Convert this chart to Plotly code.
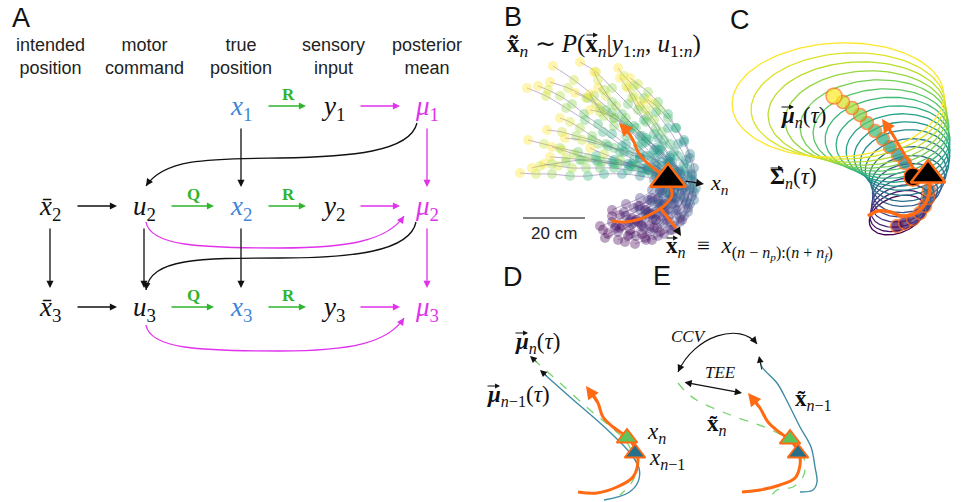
import numpy as np
import plotly.graph_objects as go
from plotly.colors import sample_colorscale

W, H = 964, 502
SERIF = "Liberation Serif"
SANS = "Liberation Sans"
BLUE = "#3d86d8"
MAG = "#e032ec"
GREEN = "#31b52e"
ORANGE = "#ff6a13"
BLACK = "#111111"
TEAL_LINE = "#3f8ca6"
GREEN_DASH = "#78d46e"
TRI_GREEN = "#5ec45c"
TRI_TEAL = "#26708c"

# ---------------- data ----------------
letters = ["A", "B", "C", "D", "E"]
letter_x = [21, 513, 740, 513, 662]
letter_y = [18, 17, 20, 277, 276]

# Panel A: graphical model
col_x = [50, 144, 241, 333, 427]
row_y = [108, 208, 309]
headers = ["intended<br>position", "motor<br>command", "true<br>position",
           "sensory<br>input", "posterior<br>mean"]
header_y = 56

node_text = ["<i>x</i><sub>1</sub>", "<i>y</i><sub>1</sub>", "<i>μ</i><sub>1</sub>",
             "<i>x̄</i><sub>2</sub>", "<i>u</i><sub>2</sub>", "<i>x</i><sub>2</sub>", "<i>y</i><sub>2</sub>", "<i>μ</i><sub>2</sub>",
             "<i>x̄</i><sub>3</sub>", "<i>u</i><sub>3</sub>", "<i>x</i><sub>3</sub>", "<i>y</i><sub>3</sub>", "<i>μ</i><sub>3</sub>"]
node_col = [2, 3, 4, 0, 1, 2, 3, 4, 0, 1, 2, 3, 4]
node_row = [0, 0, 0, 1, 1, 1, 1, 1, 2, 2, 2, 2, 2]
node_color = [BLUE, BLACK, MAG, BLACK, BLACK, BLUE, BLACK, MAG, BLACK, BLACK, BLUE, BLACK, MAG]

h_row = [0, 0, 1, 1, 1, 1, 2, 2, 2, 2]
h_col = [2, 3, 0, 1, 2, 3, 0, 1, 2, 3]
h_color = [GREEN, MAG, BLACK, GREEN, GREEN, MAG, BLACK, GREEN, GREEN, MAG]
h_label = ["R", "", "", "Q", "R", "", "", "Q", "R", ""]

v_col = [2, 4, 0, 1, 2, 4]
v_row = [0, 0, 1, 1, 1, 1]
v_color = [BLACK, MAG, BLACK, BLACK, BLACK, MAG]

curve_pts = [
    [(417, 123), (410, 152), (350, 157), (280, 158), (210, 159), (165, 158), (146, 186)],
    [(146, 222), (150, 246), (200, 248), (280, 248), (350, 248), (388, 240), (404, 216)],
    [(416, 222), (410, 252), (350, 258), (280, 258), (200, 258), (150, 258), (146, 290)],
    [(146, 325), (150, 349), (200, 351), (280, 351), (350, 351), (388, 343), (404, 318)],
]
curve_color = [BLACK, MAG, BLACK, MAG]

# Panel B: posterior samples (pixel positions)
traj_B = [
    [(628,236),(642,226),(656,214),(668,200),(672,186),(666,172),(655,158),(642,144),(628,128),(612,112),(594,96),(574,80),(553,66)],
    [(645,238),(657,228),(668,216),(678,202),(684,188),(680,172),(670,156),(658,138),(644,120),(628,104),(612,88),(596,72),(580,62)],
    [(615,228),(630,220),(645,210),(658,198),(664,184),(656,170),(640,158),(622,146),(603,132),(585,120),(566,108),(546,96),(527,88)],
    [(638,222),(652,214),(664,204),(674,192),(676,178),(668,164),(654,150),(640,136),(624,122),(606,110),(588,98),(568,88),(550,82)],
    [(660,232),(670,222),(678,210),(684,196),(682,182),(672,168),(660,154),(646,142),(630,130),(614,118),(600,108),(586,98),(575,93)],
    [(650,226),(662,216),(672,204),(682,190),(688,176),(686,160),(678,144),(668,128),(656,112),(644,98),(634,86),(624,76),(618,68)],
    [(672,230),(680,218),(686,204),(690,190),(692,174),(690,158),(684,142),(676,128),(668,114),(658,102),(648,92),(638,84),(630,78)],
    [(682,220),(688,208),(692,196),(694,182),(694,168),(690,154),(684,140),(676,128),(668,118),(660,110),(654,104),(648,100)],
    [(620,215),(634,208),(648,200),(660,190),(660,178),(648,170),(632,164),(614,160),(596,156),(578,152),(560,148),(544,144),(528,140)],
    [(632,218),(646,210),(658,200),(668,188),(668,176),(656,166),(640,158),(624,152),(608,146),(592,140),(576,136),(562,132),(547,130)],
    [(648,212),(660,204),(670,194),(678,182),(674,170),(662,162),(646,156),(630,152),(614,148),(598,144),(582,140),(565,138)],
    [(612,210),(626,204),(640,198),(652,190),(654,180),(640,176),(622,174),(604,174),(588,176),(570,176),(552,174),(536,174),(520,173)],
    [(640,206),(652,198),(662,190),(668,180),(660,172),(646,168),(630,166),(614,164),(598,162),(582,160),(566,158),(550,157)],
    [(656,220),(666,210),(674,198),(680,186),(678,172),(668,160),(656,148),(642,136),(628,126),(614,118),(600,112),(590,110)],
    [(605,238),(618,232),(632,224),(646,214),(658,204),(666,192),(662,180),(650,172),(636,166),(620,160),(604,154),(590,148)],
    [(625,242),(636,236),(650,232),(664,224),(676,214),(686,202),(690,188),(684,174),(672,162),(660,150),(648,140),(636,128),(626,118),(616,106),(606,96),(598,88)],
    [(618,240),(630,234),(644,228),(656,220),(668,210),(676,198),(678,186),(672,176),(662,166),(650,156),(638,146),(626,136),(614,126),(604,116),(596,104),(590,94)],
    [(600,226),(612,222),(626,216),(640,210),(652,202),(662,194),(666,184),(660,176),(648,168),(634,160),(620,152),(606,144),(592,136),(580,128),(570,122),(560,118)],
    [(635,244),(646,240),(658,236),(670,230),(680,222),(688,212),(694,200),(696,188),(692,176),(684,164),(674,152),(664,140),(656,128),(648,116),(640,106),(634,96),(628,88)],
    [(608,234),(620,228),(634,222),(648,216),(660,208),(670,200),(674,190),(668,182),(656,176),(642,172),(628,170),(614,168),(600,168),(586,168),(572,168),(558,166),(544,164)],
    [(652,240),(664,234),(674,226),(684,216),(690,204),(694,192),(692,180),(686,168),(678,156),(670,144),(662,132),(654,120),(646,110),(640,102)],
    [(622,226),(636,220),(650,214),(662,206),(672,196),(674,184),(666,174),(654,164),(640,154),(626,144),(612,134),(598,124),(584,114),(572,104),(560,96),(548,90),(538,86)],
    [(642,234),(654,228),(666,220),(676,210),(684,198),(686,186),(680,174),(670,162),(658,150),(646,138),(634,126),(622,114),(612,102),(604,90),(598,80),(594,72)],
    [(612,216),(624,212),(638,206),(650,200),(660,192),(664,182),(656,174),(642,168),(628,164),(612,162),(596,160),(580,160),(566,162),(552,164),(540,166),(532,168)],
    [(630,230),(641,224),(653,219),(664,212),(674,204),(680,194),(682,182),(678,170),(670,158),(662,146),(654,134),(646,122),(638,110),(632,98),(626,86),(620,78)],
    [(603,230),(616,226),(629,222),(642,218),(654,212),(664,204),(670,194),(668,184),(660,176),(648,170),(634,166),(618,164),(602,162),(588,158),(574,154),(562,150),(552,147)],
]
orange_B = [(612,221),(625,222),(640,219),(655,212),(666,204),(672,195),(670,186),(666,178),(656,170),(646,162),(638,152),(634,142),(628,132),(623,127)]
orange_B2 = [(661,209),(669,219),(676,228)]
tri_B = (668, 179)
scalebar_x = [523, 585]
scalebar_y = 218

# Panel C: covariance ellipses (purple -> yellow)
ell_cx = [897,899,901,903,905,907,908,908,907,905,902,898,893,887,881,874,866,857,848,838]
ell_cy = [215,211,206,200,194,188,181,174,167,160,154,148,142,136,130,124,118,112,106,100]
ell_a = [29,30,31,32,33,35,37,39,42,45,48,52,57,62,68,74,81,89,97,106]
ell_b = [18,19,20,21,22,24,25,27,28,30,32,34,36,38.5,41,44,47,50,53,57]
ell_ang = [22,20,18,16,14,12,10,9,8,7,6,6,5,5,4,4,3,3,3,3]
mu_C = [(897,226),(905,223),(913,219),(920,213),(925,206),(928,198),(929,190),
        (905,163),(898,155),(890,147),(883,139),(875,131),(867,123),(860,115),(852,108),(843,102),(834,96)]
mu_C_size = [13]*16 + [16]
orange_C1 = [(868,216),(878,211),(890,212),(902,216),(914,214),(922,208),(928,198),(930,188),(928,180)]
orange_C2 = [(916,172),(908,160),(900,147),(893,135),(887,126)]
dot_C = (913, 177)
tri_C = (928, 175)

# Panel D
D_green = [(533,359),(560,383),(590,410),(612,428),(625,440),(634,456),(637,468),(632,482),(620,495)]
D_teal = [(543,373),(570,397),(600,423),(620,442),(630,453),(639,468),(638,482),(628,493),(604,500)]
D_orange = [(578,492),(597,493),(617,487),(633,477),(638,460),(635,448),(627,437),(613,427),(603,417),(598,403),(591,392)]
D_tri_green = (627, 438)
D_tri_teal = (635, 453)

# Panel E
E_teal = [(760,360),(762,367),(777,383),(788,403),(800,427),(811,447),(815,467),(817,482),(813,490),(800,492)]
E_green = [(678,383),(687,393),(700,402),(733,416),(767,428),(790,440),(800,450),(805,463),(803,477),(793,487),(777,490),(770,498)]
E_orange = [(742,492),(760,490),(780,485),(795,478),(800,465),(799,453),(790,440),(779,432),(768,422),(760,408),(753,399)]
E_tri_green = (790, 439)
E_tri_teal = (798, 453)
ccv_pts = [(678,372),(695,335),(740,322),(757,344)]
tee_pts = [(683,382),(742,393)]

# vector arrows over bold symbols: (x start, x end, y)
vec_marks = [(585, 598, 35), (665, 678, 238), (780, 794, 107), (769, 783, 168), (514, 528, 333), (486, 500, 386)]

# ---------------- figure ----------------
fig = go.Figure()
shapes = []
anns = []


def text(x, y, t, size, color=BLACK, family=SERIF, xanchor="center"):
    anns.append(dict(x=x, y=y, xref="x", yref="y", text=t, showarrow=False,
                     font=dict(size=size, color=color, family=family),
                     xanchor=xanchor, yanchor="middle"))


def arrow(x0, y0, x1, y1, color, width=1.3, size=1.1, head=2, side="end"):
    anns.append(dict(x=x1, y=y1, ax=x0, ay=y0, xref="x", yref="y", axref="x", ayref="y",
                     text="", showarrow=True, arrowhead=head, startarrowhead=head,
                     arrowsize=size, startarrowsize=size, arrowside=side,
                     arrowwidth=width, arrowcolor=color, standoff=0, startstandoff=0))


def line(pts, color, width, dash="solid", spline=True, opacity=1.0):
    fig.add_trace(go.Scatter(x=[p[0] for p in pts], y=[p[1] for p in pts], mode="lines",
                             line=dict(color=color, width=width, dash=dash,
                                       shape="spline" if spline else "linear"),
                             opacity=opacity, hoverinfo="skip"))


# panel letters
for L, lx, ly in zip(letters, letter_x, letter_y):
    text(lx, ly, L, 27, BLACK, SANS)

# Panel A
for cx, hd in zip(col_x, headers):
    text(cx, header_y, hd, 18, "#222222", SANS)
for t, c, r, colr in zip(node_text, node_col, node_row, node_color):
    text(col_x[c], row_y[r], t, 27, colr, SERIF)
for r, c, colr, lab in zip(h_row, h_col, h_color, h_label):
    y = row_y[r] - 2
    arrow(col_x[c] + 26, y, col_x[c + 1] - 27, y, colr)
    if lab:
        text((col_x[c] + col_x[c + 1]) / 2 + 1, y - 12, "<b>" + lab + "</b>", 17, colr, SERIF)
for c, r, colr in zip(v_col, v_row, v_color):
    arrow(col_x[c], row_y[r] + 19, col_x[c], row_y[r + 1] - 21, colr)
for pts, colr in zip(curve_pts, curve_color):
    p = pts
    path = "M %g,%g C %g,%g %g,%g %g,%g C %g,%g %g,%g %g,%g" % tuple(v for q in p for v in q)
    shapes.append(dict(type="path", path=path, xref="x", yref="y",
                       line=dict(color=colr, width=1.3)))
    (x5, y5), (x6, y6) = p[5], p[6]
    arrow(x6 + 0.25 * (x5 - x6), y6 + 0.25 * (y5 - y6), x6, y6, colr)

# Panel B
for tr in traj_B:
    n = len(tr)
    cols = sample_colorscale("Viridis", list(np.linspace(0, 1, n)))
    fig.add_trace(go.Scatter(x=[p[0] for p in tr], y=[p[1] for p in tr], mode="lines+markers",
                             line=dict(color="rgba(130,90,160,0.55)", width=0.9, shape="spline"),
                             marker=dict(size=10, color=cols, opacity=0.36, line=dict(width=0)),
                             hoverinfo="skip"))
line(orange_B, ORANGE, 3)
line(orange_B2, ORANGE, 3, spline=False)
arrow(orange_B[-2][0], orange_B[-2][1], orange_B[-1][0] - 4, orange_B[-1][1] - 4, ORANGE, 2.6, 1.0)
arrow(676, 228, 681, 236, BLACK, 1.3, 1.3)
fig.add_trace(go.Scatter(x=[tri_B[0]], y=[tri_B[1]], mode="markers",
                         marker=dict(symbol="triangle-up", size=31, color="black",
                                     line=dict(color=ORANGE, width=2.5)), hoverinfo="skip"))
arrow(684, 181, 704, 184, BLACK, 1.3, 1.2)
text(708, 184, "<i>x</i><sub><i>n</i></sub>", 22, BLACK, SERIF, "left")
shapes.append(dict(type="line", x0=scalebar_x[0], x1=scalebar_x[1], y0=scalebar_y, y1=scalebar_y,
                   xref="x", yref="y", line=dict(color="#555555", width=1.6)))
text(sum(scalebar_x) / 2, 233, "20 cm", 17, "#222222", SANS)
text(505, 45, "<b>x̃</b><sub><i>n</i></sub> ∼ <i>P</i>(<b>x</b><sub><i>n</i></sub>|<i>y</i><sub>1:<i>n</i></sub>, <i>u</i><sub>1:<i>n</i></sub>)",
     25, BLACK, SERIF, "left")
text(664, 248, "<b>x</b><sub><i>n</i></sub>  ≡  <i>x</i><sub>(<i>n</i> − <i>n</i><sub><i>p</i></sub>):(<i>n</i> + <i>n</i><sub><i>f</i></sub>)</sub>",
     23, BLACK, SERIF, "left")

# Panel C
ecols = sample_colorscale("Viridis", list(np.linspace(0, 1, len(ell_cx))))
tt = np.linspace(0, 2 * np.pi, 120)
for cx, cy, a, b, ang, colr in zip(ell_cx, ell_cy, ell_a, ell_b, ell_ang, ecols):
    ph = np.deg2rad(ang)
    dx, dy = a * np.cos(tt), b * np.sin(tt)
    ex = cx + dx * np.cos(ph) - dy * np.sin(ph)
    ey = cy - (dx * np.sin(ph) + dy * np.cos(ph))
    fig.add_trace(go.Scatter(x=ex, y=ey, mode="lines", line=dict(color=colr, width=1.3),
                             hoverinfo="skip"))
mcols = sample_colorscale("Viridis", list(np.linspace(0, 1, len(mu_C))))
fig.add_trace(go.Scatter(x=[p[0] for p in mu_C], y=[p[1] for p in mu_C], mode="markers",
                         marker=dict(size=mu_C_size, color=mcols, line=dict(color=ORANGE, width=1.5)),
                         hoverinfo="skip"))
line(orange_C1, ORANGE, 3.5)
line(orange_C2, ORANGE, 3)
arrow(orange_C2[-2][0], orange_C2[-2][1], orange_C2[-1][0] - 5, orange_C2[-1][1] - 7, ORANGE, 2.6, 1.0)
fig.add_trace(go.Scatter(x=[dot_C[0]], y=[dot_C[1]], mode="markers",
                         marker=dict(size=18, color="black", line=dict(color=ORANGE, width=1.5)),
                         hoverinfo="skip"))
fig.add_trace(go.Scatter(x=[tri_C[0]], y=[tri_C[1]], mode="markers",
                         marker=dict(symbol="triangle-up", size=30, color="black",
                                     line=dict(color=ORANGE, width=2.5)), hoverinfo="skip"))
text(779, 117, "<b><i>μ</i></b><sub><i>n</i></sub>(<i>τ</i>)", 23, BLACK, SERIF, "left")
text(768, 178, "<b>Σ</b><sub><i>n</i></sub>(<i>τ</i>)", 23, BLACK, SERIF, "left")

# Panel D
line(D_green, GREEN_DASH, 1.3, dash="dash")
line(D_teal, TEAL_LINE, 1.4)
arrow(D_green[1][0] - 22, D_green[1][1] - 20, D_green[0][0] - 3, D_green[0][1] - 3, BLACK, 0.9, 1.5)
arrow(D_teal[1][0] - 22, D_teal[1][1] - 20, D_teal[0][0] - 3, D_teal[0][1] - 3, BLACK, 0.9, 1.5)
line(D_orange, ORANGE, 3)
arrow(D_orange[-2][0], D_orange[-2][1], D_orange[-1][0] - 5, D_orange[-1][1] - 6, ORANGE, 2.6, 1.0)
fig.add_trace(go.Scatter(x=[D_tri_green[0], D_tri_teal[0]], y=[D_tri_green[1], D_tri_teal[1]],
                         mode="markers",
                         marker=dict(symbol="triangle-up", size=18, color=[TRI_GREEN, TRI_TEAL],
                                     line=dict(color=ORANGE, width=1.8)), hoverinfo="skip"))
text(513, 343, "<b><i>μ</i></b><sub><i>n</i></sub>(<i>τ</i>)", 23, BLACK, SERIF, "left")
text(485, 396, "<b><i>μ</i></b><sub><i>n</i>−1</sub>(<i>τ</i>)", 23, BLACK, SERIF, "left")
text(645, 433, "<i>x</i><sub><i>n</i></sub>", 23, BLACK, SERIF, "left")
text(647, 459, "<i>x</i><sub><i>n</i>−1</sub>", 23, BLACK, SERIF, "left")

# Panel E
line(E_green, GREEN_DASH, 1.3, dash="dash")
line(E_teal, TEAL_LINE, 1.4)
arrow(E_teal[1][0], E_teal[1][1] + 4, E_teal[0][0] - 1, E_teal[0][1] - 4, BLACK, 0.9, 1.5)
line(E_orange, ORANGE, 3)
arrow(E_orange[-2][0], E_orange[-2][1], E_orange[-1][0] - 5, E_orange[-1][1] - 6, ORANGE, 2.6, 1.0)
fig.add_trace(go.Scatter(x=[E_tri_green[0], E_tri_teal[0]], y=[E_tri_green[1], E_tri_teal[1]],
                         mode="markers",
                         marker=dict(symbol="triangle-up", size=18, color=[TRI_GREEN, TRI_TEAL],
                                     line=dict(color=ORANGE, width=1.8)), hoverinfo="skip"))
p0, p1, p2, p3 = ccv_pts
shapes.append(dict(type="path", xref="x", yref="y",
                   path="M %g,%g C %g,%g %g,%g %g,%g" % (*p0, *p1, *p2, *p3),
                   line=dict(color=BLACK, width=1.2)))
arrow(p0[0] + 0.2 * (p1[0] - p0[0]), p0[1] + 0.2 * (p1[1] - p0[1]), p0[0], p0[1], BLACK, 1.2, 1.2)
arrow(p3[0] + 0.2 * (p2[0] - p3[0]), p3[1] + 0.2 * (p2[1] - p3[1]), p3[0], p3[1], BLACK, 1.2, 1.2)
arrow(tee_pts[0][0], tee_pts[0][1], tee_pts[1][0], tee_pts[1][1], BLACK, 1.2, 1.2, side="end+start")
text(689, 336, "<i>CCV</i>", 17, BLACK, SERIF)
text(720, 372, "<i>TEE</i>", 17, BLACK, SERIF)
text(793, 400, "<b>x̃</b><sub><i>n</i>−1</sub>", 23, BLACK, SERIF, "left")
text(705, 425, "<b>x̃</b><sub><i>n</i></sub>", 23, BLACK, SERIF, "left")

# vector arrows drawn as tiny annotation arrows
for vx0, vx1, vy in vec_marks:
    arrow(vx0, vy, vx1, vy, BLACK, 1.1, 0.9)

fig.update_layout(
    width=W, height=H, margin=dict(l=0, r=0, t=0, b=0),
    paper_bgcolor="white", plot_bgcolor="white", showlegend=False,
    xaxis=dict(range=[0, W], visible=False, fixedrange=True),
    yaxis=dict(range=[H, 0], visible=False, fixedrange=True),
    shapes=shapes, annotations=anns,
)
fig.write_html("out.html")
